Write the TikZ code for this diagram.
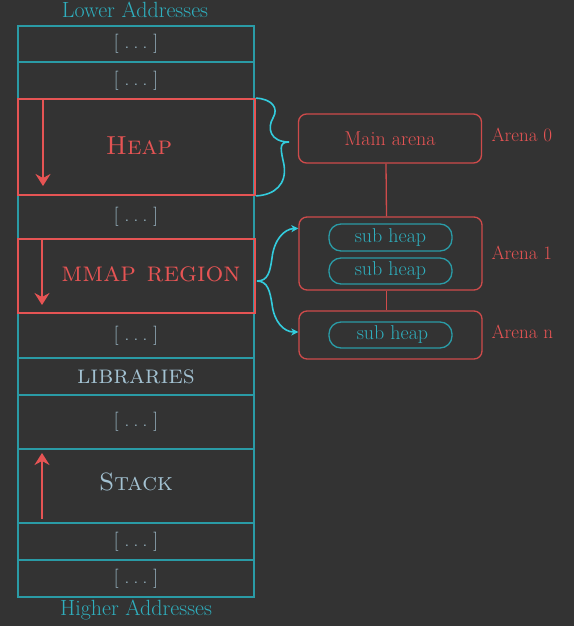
\documentclass[tikz,border=0pt]{standalone}
\usetikzlibrary{arrows.meta,positioning}
\definecolor{bg}{HTML}{333333}
\definecolor{teal}{HTML}{2A9BA6}
\definecolor{tealtxt}{HTML}{2FAFBE}
\definecolor{cellx}{HTML}{A3C2D2}
\definecolor{redc}{HTML}{E65454}
\definecolor{redbox}{HTML}{CF4B4B}
\definecolor{cyanb}{HTML}{33CCDD}
\newcommand{\gap}{[\hspace{0.32em}.\hspace{0.22em}.\hspace{0.22em}.\hspace{0.32em}]}
\begin{document}
\begin{tikzpicture}[x=1pt,y=-1pt,
  cell/.style={draw=teal,line width=1.4pt,minimum width=236pt,inner sep=0pt,text=cellx,font=\fontsize{19}{21}\selectfont},
  region/.style={draw=redc,line width=1.8pt,minimum width=237pt,inner sep=0pt,text=redc},
  growarrow/.style={draw=redc,line width=2.4pt,-{Stealth[length=12pt,width=15pt,inset=4pt]}},
  arena/.style={draw=redbox,line width=1.3pt,rounded corners=8pt,minimum width=183pt,inner sep=0pt,text=redc,font=\fontsize{20}{22}\selectfont},
  subheap/.style={draw=teal,line width=1.3pt,rounded corners=12pt,minimum width=123pt,inner sep=0pt,text=tealtxt,font=\fontsize{20}{22}\selectfont},
  link/.style={draw=redbox,line width=1.3pt},
  brace/.style={draw=cyanb,line width=1.6pt},
  bracearrow/.style={draw=cyanb,line width=1.6pt,-{Stealth[length=7pt,width=7pt,inset=2pt]}},
  addr/.style={text=tealtxt,font=\fontsize{22}{24}\selectfont},
  arenalabel/.style={text=redc,anchor=west,font=\fontsize{19}{21}\selectfont}]
\fill[bg] (0,0) rectangle (574,626);
\useasboundingbox (0,0) rectangle (574,626);
% column cells
\node[cell,minimum height=36pt] (c1) at (136,44) {\gap};
\node[cell,minimum height=37pt] (c2) at (136,80.5) {\gap};
\node[cell,minimum height=96pt] (heapcell) at (136,147) {};
\node[cell,minimum height=44pt] (c3) at (136,217) {\gap};
\node[cell,minimum height=74pt] (mmapcell) at (136,276) {};
\node[cell,minimum height=45pt] (c4) at (136,335.5) {\gap};
\node[cell,minimum height=37pt,font=\fontsize{26}{28}\selectfont] (lib) at (136,376.5) {\textsc{libraries}};
\node[cell,minimum height=54pt] (c5) at (136,422) {\gap};
\node[cell,minimum height=74pt] (stack) at (136,486) {};
\node[text=cellx,font=\fontsize{25}{27}\selectfont] (stacktxt) at (136,482) {\textsc{Stack}};
\node[cell,minimum height=37pt] (c6) at (136,541.5) {\gap};
\node[cell,minimum height=37pt] (c7) at (136,578.5) {\gap};
% red regions
\node[region,minimum height=96pt] (heap) at (136.5,147) {};
\node[text=redc,font=\fontsize{26}{28}\selectfont] (heaptxt) at (139,146) {\textsc{Heap}};
\node[region,minimum height=74pt] (mmap) at (136.5,276) {};
\node[text=redc,font=\fontsize{28}{30}\selectfont] (mmaptxt) at (151,274) {\textsc{mmap region}};
% growth arrows
\coordinate (ha1) at (43,99);
\coordinate (ha2) at (43,186);
\draw[growarrow] (ha1) -- (ha2);
\coordinate (ma1) at (42,239);
\coordinate (ma2) at (42,305);
\draw[growarrow] (ma1) -- (ma2);
\coordinate (sa1) at (42,519);
\coordinate (sa2) at (42,453);
\draw[growarrow] (sa1) -- (sa2);
% address labels
\node[addr] (lower) at (135,10) {Lower Addresses};
\node[addr] (higher) at (136,610) {Higher Addresses};
% arenas
\node[arena,minimum height=49pt] (main) at (390,138.5) {Main arena};
\node[arena,minimum height=73pt] (arena1) at (390.5,253.5) {};
\node[arena,minimum height=48pt] (arenan) at (390.5,335) {};
\node[subheap,minimum height=27pt] (sh1) at (390.5,237.5) {sub heap};
\node[subheap,minimum height=26pt] (sh2) at (390.5,271) {sub heap};
\node[subheap,minimum height=26pt] (sh3) at (390.5,335) {\hspace{4pt}sub heap};
\node[arenalabel] (l0) at (488,135) {Arena 0};
\node[arenalabel] (l1) at (488,253) {Arena 1};
\node[arenalabel] (ln) at (488,332) {Arena n};
\draw[link] ([xshift=-4pt]main.south) -- ([xshift=-4pt]arena1.north);
\draw[link] ([xshift=-4pt]arena1.south) -- ([xshift=-4pt]arenan.north);
% heap brace
\coordinate (htip) at (289,142);
\draw[brace] (heap.north east) .. controls (272,99) and (279,108) .. (273,118)
  .. controls (267,128) and (270,142) .. (htip)
  .. controls (278,142) and (281,150) .. (284,165)
  .. controls (287,184) and (275,195) .. (heap.south east);
% mmap brace
\coordinate (mtip) at (257,281);
\coordinate (a1end) at ([yshift=-12pt]arena1.north west);
\coordinate (anend) at ([yshift=3pt]arenan.west);
\draw[bracearrow] (mtip) .. controls (268,281) and (270,272) .. (272,258)
  .. controls (274,240) and (284,229) .. (a1end);
\draw[bracearrow] (mtip) .. controls (268,281) and (270,292) .. (272,304)
  .. controls (274,322) and (284,332) .. (anend);
\end{tikzpicture}
\end{document}
